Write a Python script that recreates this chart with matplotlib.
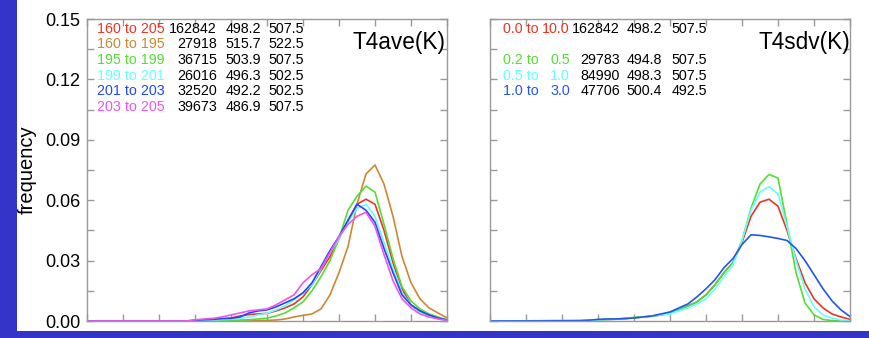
import numpy as np
import matplotlib
matplotlib.use("Agg")
import matplotlib.pyplot as plt
from matplotlib.patches import Rectangle
from matplotlib.ticker import MultipleLocator, NullFormatter, FormatStrFormatter

plt.rcParams['font.family'] = ['Liberation Sans', 'DejaVu Sans']

# Bin positions (relative units across the x range)
x = [0, 25, 27.5, 30, 32.5, 35, 37.5, 40, 42.5, 45, 47.5, 50, 52.5, 55, 57.5, 60,
     62.5, 65, 67.5, 70, 72.5, 75, 77.5, 80, 82.5, 85, 87.5, 90, 92.5, 95, 97.5, 100]

# ---- T4ave classes ----
ave_labels = ["160 to 205", "160 to 195", "195 to 199", "199 to 201", "201 to 203", "203 to 205"]
ave_count = ["162842", "27918", "36715", "26016", "32520", "39673"]
ave_mean = ["498.2", "515.7", "503.9", "496.3", "492.2", "486.9"]
ave_mode = ["507.5", "522.5", "507.5", "502.5", "502.5", "507.5"]

ave_160_205 = [0, 0, 0, 0.0002, 0.0004, 0.0006, 0.001, 0.0015, 0.0025, 0.0032, 0.0035, 0.0038,
               0.005, 0.0065, 0.0085, 0.012, 0.018, 0.025, 0.032, 0.041, 0.050, 0.058, 0.0605,
               0.058, 0.045, 0.029, 0.016, 0.008, 0.005, 0.003, 0.0015, 0.0004]
ave_160_195 = [0, 0, 0, 0, 0, 0, 0, 0, 0, 0, 0.0002, 0.0003, 0.0005, 0.001, 0.002, 0.0028,
               0.0035, 0.006, 0.013, 0.024, 0.037, 0.058, 0.073, 0.0775, 0.068, 0.052, 0.032,
               0.019, 0.011, 0.0065, 0.004, 0.0015]
ave_195_199 = [0, 0, 0, 0, 0.0001, 0.0002, 0.0003, 0.0004, 0.0005, 0.0006, 0.001, 0.0014,
               0.0025, 0.004, 0.0065, 0.0095, 0.015, 0.022, 0.030, 0.041, 0.055, 0.062, 0.067,
               0.064, 0.048, 0.031, 0.017, 0.010, 0.006, 0.0035, 0.002, 0.0005]
ave_199_201 = [0, 0, 0, 0.0002, 0.0004, 0.0005, 0.0007, 0.0009, 0.0013, 0.002, 0.003, 0.0038,
               0.0055, 0.0075, 0.0105, 0.014, 0.018, 0.026, 0.034, 0.041, 0.049, 0.056, 0.058,
               0.052, 0.039, 0.026, 0.014, 0.008, 0.0045, 0.0025, 0.0012, 0.0003]
ave_201_203 = [0, 0, 0, 0.0003, 0.0006, 0.0008, 0.0012, 0.0013, 0.002, 0.004, 0.005, 0.0055,
               0.007, 0.009, 0.011, 0.014, 0.019, 0.027, 0.035, 0.042, 0.050, 0.058, 0.055,
               0.049, 0.036, 0.024, 0.013, 0.008, 0.005, 0.003, 0.0015, 0.0005]
ave_203_205 = [0, 0, 0, 0.0006, 0.001, 0.0013, 0.002, 0.003, 0.004, 0.005, 0.0055, 0.006,
               0.008, 0.0105, 0.013, 0.019, 0.023, 0.026, 0.034, 0.042, 0.048, 0.052, 0.054,
               0.047, 0.033, 0.020, 0.011, 0.0065, 0.0035, 0.002, 0.001, 0.0003]

# ---- T4sdv classes ----
sdv_labels = [("0.0 to", "10.0"), ("0.2 to", "0.5"), ("0.5 to", "1.0"), ("1.0 to", "3.0")]
sdv_count = ["162842", "29783", "84990", "47706"]
sdv_mean = ["498.2", "494.8", "498.3", "500.4"]
sdv_mode = ["507.5", "507.5", "507.5", "492.5"]

sdv_0_10 = [0, 0.0002, 0.0003, 0.0005, 0.0007, 0.0009, 0.0012, 0.0016, 0.002, 0.0024, 0.003,
            0.004, 0.0055, 0.0075, 0.0095, 0.013, 0.018, 0.024, 0.029, 0.039, 0.052, 0.059,
            0.0605, 0.057, 0.045, 0.031, 0.019, 0.011, 0.0065, 0.0035, 0.002, 0.0008]
sdv_02_05 = [0, 0.0002, 0.0003, 0.0005, 0.0008, 0.001, 0.0013, 0.0018, 0.002, 0.0025, 0.003,
             0.004, 0.0055, 0.0075, 0.0095, 0.013, 0.018, 0.024, 0.029, 0.040, 0.056, 0.068,
             0.0728, 0.071, 0.048, 0.024, 0.009, 0.003, 0.0008, 0.0002, 0, 0]
sdv_05_10 = [0, 0.0002, 0.0003, 0.0005, 0.0007, 0.0009, 0.0012, 0.0016, 0.002, 0.0024, 0.003,
             0.0035, 0.005, 0.0065, 0.0085, 0.011, 0.016, 0.022, 0.028, 0.040, 0.055, 0.064,
             0.0668, 0.063, 0.047, 0.030, 0.016, 0.007, 0.003, 0.0015, 0.0005, 0.0001]
sdv_10_30 = [0, 0.0001, 0.0004, 0.0008, 0.001, 0.001, 0.0012, 0.0015, 0.002, 0.0025, 0.0035,
             0.0045, 0.0065, 0.0085, 0.012, 0.016, 0.0205, 0.0265, 0.031, 0.038, 0.0428, 0.0425,
             0.0418, 0.041, 0.040, 0.036, 0.030, 0.023, 0.016, 0.010, 0.0055, 0.0022]

ave_colors = ["#ee3322", "#cc8833", "#55dd33", "#66ffff", "#2244ff", "#ee55ee"]
sdv_colors = ["#ee3322", "#55dd33", "#66ffff", "#2255ee"]

W, H = 870, 338
fig = plt.figure(figsize=(W / 100, H / 100), dpi=100)
fig.patch.set_facecolor("#3434c8")
fig.patches.append(Rectangle((17 / W, 7 / H), 1 - 17 / W, 1 - 7 / H,
                             transform=fig.transFigure, facecolor="white",
                             edgecolor="none", zorder=-10))

def px_to_fig(px, py):
    return px / W, 1 - py / H

def make_axes(left_px):
    l, t = px_to_fig(left_px, 19)
    _, b = px_to_fig(left_px, 321)
    ax = fig.add_axes([l, b, 360 / W, t - b])
    ax.set_facecolor("none")
    ax.set_xlim(0, 100)
    ax.set_ylim(0, 0.15)
    ax.xaxis.set_major_locator(MultipleLocator(10))
    ax.xaxis.set_major_formatter(NullFormatter())
    ax.yaxis.set_major_locator(MultipleLocator(0.03))
    ax.yaxis.set_minor_locator(MultipleLocator(0.015))
    ax.tick_params(which="both", direction="in", top=True, right=True,
                   length=5, width=1, color="#999999", labelsize=13, pad=5)
    for s in ax.spines.values():
        s.set_color("#999999")
        s.set_linewidth(1)
    return ax

ax1 = make_axes(87)
ax1.yaxis.set_major_formatter(FormatStrFormatter("%.2f"))
ax1.set_ylabel("frequency", fontsize=14.5, labelpad=6)

for ys, c in zip([ave_160_205, ave_160_195, ave_195_199, ave_199_201, ave_201_203, ave_203_205],
                 ave_colors):
    ax1.plot(x, ys, color=c, lw=1.2)

ax2 = make_axes(490)
ax2.yaxis.set_major_formatter(NullFormatter())
for ys, c in zip([sdv_0_10, sdv_02_05, sdv_05_10, sdv_10_30], sdv_colors):
    ax2.plot(x, ys, color=c, lw=1.2)

fs = 10.3
rows = [29, 44.5, 60, 76, 91, 107]

def ftext(px, py, s, color="black", ha="left", size=fs):
    fx, fy = px_to_fig(px, py)
    fig.text(fx, fy, s, color=color, ha=ha, va="center", fontsize=size)

for i, r in enumerate(rows):
    ftext(97, r, ave_labels[i], ave_colors[i])
    ftext(217, r, ave_count[i], ha="right")
    ftext(261, r, ave_mean[i], ha="right")
    ftext(304, r, ave_mode[i], ha="right")
ftext(446, 42, "T4ave(K)", ha="right", size=16.3)

sdv_rows = [29, 60, 76, 91]
for i, r in enumerate(sdv_rows):
    lo, hi = sdv_labels[i]
    ftext(503, r, lo, sdv_colors[i])
    ftext(570, r, hi, sdv_colors[i], ha="right")
    ftext(620, r, sdv_count[i], ha="right")
    ftext(662, r, sdv_mean[i], ha="right")
    ftext(707, r, sdv_mode[i], ha="right")
ftext(850, 42, "T4sdv(K)", ha="right", size=16.3)

fig.savefig("out.png", dpi=100, facecolor=fig.get_facecolor())
